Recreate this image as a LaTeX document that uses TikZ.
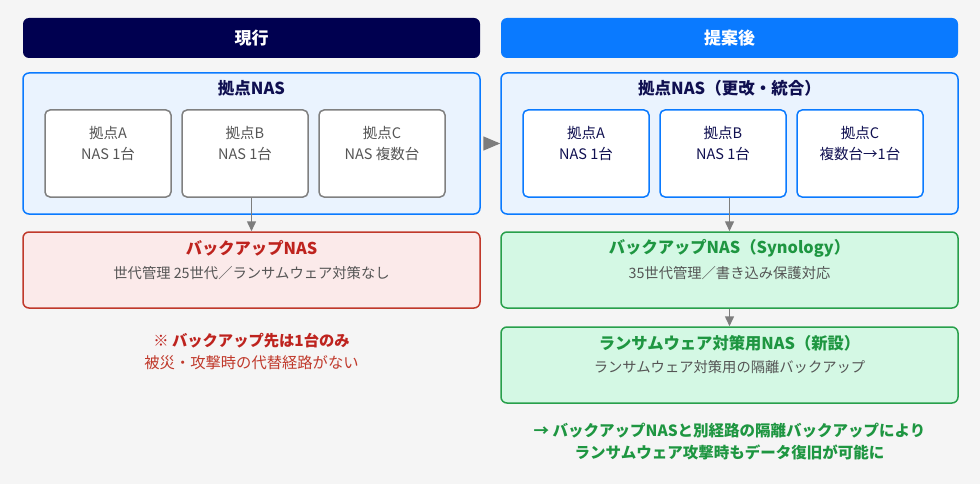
\documentclass[tikz,border=0pt]{standalone}
\usepackage{fontspec}
\setmainfont{Noto Sans CJK JP}
\usetikzlibrary{arrows.meta, positioning, calc}
\definecolor{pagebg}{RGB}{245,245,245}
\definecolor{curnavy}{RGB}{0,0,80}
\definecolor{propblue}{RGB}{10,122,255}
\definecolor{groupfill}{RGB}{234,243,254}
\definecolor{siteborder}{RGB}{128,128,128}
\definecolor{sitetext}{RGB}{85,85,85}
\definecolor{titlenavy}{RGB}{15,15,80}
\definecolor{backupred}{RGB}{192,57,43}
\definecolor{backupredtext}{RGB}{190,35,30}
\definecolor{backupredfill}{RGB}{251,234,234}
\definecolor{safegreen}{RGB}{40,160,75}
\definecolor{safegreentext}{RGB}{30,150,65}
\definecolor{safegreenfill}{RGB}{212,248,228}
\definecolor{arrowgray}{RGB}{125,125,125}
\tikzset{
    headbox/.style={rectangle, rounded corners=6pt, minimum width=457pt, minimum height=40pt, text=white, font=\fontsize{17}{20}\selectfont\bfseries},
    groupbox/.style={rectangle, rounded corners=6pt, minimum width=457pt, minimum height=141pt, fill=groupfill, draw=propblue, line width=1.5pt},
    sitebox/.style={rectangle, rounded corners=5pt, minimum width=126pt, minimum height=87pt, fill=white, line width=1.5pt},
    wideblock/.style={rectangle, rounded corners=6pt, minimum width=457pt, minimum height=76pt, line width=1.5pt},
    arrow/.style={-{Triangle[length=10pt, width=9pt]}, arrowgray, line width=1.5pt},
}

\begin{document}
\begin{tikzpicture}[
    x=1pt, y=-1pt,
    grouptitle/.style={font=\fontsize{16.5}{19}\selectfont\bfseries, text=titlenavy, inner sep=0pt},
    sitelabel/.style={align=center, inner sep=0pt, font=\fontsize{14.5}{21}\selectfont},
    blocktitle/.style={font=\fontsize{16.3}{19}\selectfont\bfseries, inner sep=0pt},
    blocksub/.style={font=\fontsize{14.3}{17}\selectfont, text=sitetext, inner sep=0pt},
    notetext/.style={align=center, inner sep=0pt}
]

\fill[pagebg] (0,0) rectangle (980,484);
\useasboundingbox (0,0) rectangle (980,484);

% Headers
\node[headbox, fill=curnavy] (cur-head) at (251.5,38) {現行};
\node[headbox, fill=propblue] (prop-head) at (729.5,38) {提案後};

% Current: site NAS group
\node[groupbox] (cur-group) at (251.5,143.5) {};
\node[grouptitle] (cur-group-title) at ($(cur-group.north)+(0,15.5)$) {拠点NAS};
\node[sitebox, draw=siteborder] (cur-a) at (108,153.5) {};
\node[sitebox, draw=siteborder] (cur-b) at (245,153.5) {};
\node[sitebox, draw=siteborder] (cur-c) at (382,153.5) {};
\node[sitelabel, text=sitetext] (cur-a-text) at ($(cur-a.north)+(0,34.5)$) {拠点A\\NAS 1台};
\node[sitelabel, text=sitetext] (cur-b-text) at ($(cur-b.north)+(0,34.5)$) {拠点B\\NAS 1台};
\node[sitelabel, text=sitetext] (cur-c-text) at ($(cur-c.north)+(0,34.5)$) {拠点C\\NAS 複数台};

% Current: backup NAS
\node[wideblock, fill=backupredfill, draw=backupred] (cur-backup) at (251.5,270) {};
\node[blocktitle, text=backupredtext] (cur-backup-title) at ($(cur-backup.north)+(0,17.5)$) {バックアップNAS};
\node[blocksub] (cur-backup-sub) at ($(cur-backup.north)+(0,42)$) {世代管理 25世代／ランサムウェア対策なし};

% Current: note
\node[notetext, text=backupredtext, font=\fontsize{15.3}{18}\selectfont\bfseries] (cur-note1) at (251.5,341) {※ バックアップ先は1台のみ};
\node[notetext, text=backupred, font=\fontsize{15.3}{18}\selectfont] (cur-note2) at (251.5,363) {被災・攻撃時の代替経路がない};

% Proposal: site NAS group
\node[groupbox] (prop-group) at (729.5,143.5) {};
\node[grouptitle] (prop-group-title) at ($(prop-group.north)+(0,15.5)$) {拠点NAS（更改・統合）};
\node[sitebox, draw=propblue] (prop-a) at (586,153.5) {};
\node[sitebox, draw=propblue] (prop-b) at (723,153.5) {};
\node[sitebox, draw=propblue] (prop-c) at (860,153.5) {};
\node[sitelabel, text=titlenavy] (prop-a-text) at ($(prop-a.north)+(0,34.5)$) {拠点A\\NAS 1台};
\node[sitelabel, text=titlenavy] (prop-b-text) at ($(prop-b.north)+(0,34.5)$) {拠点B\\NAS 1台};
\node[sitelabel, text=titlenavy] (prop-c-text) at ($(prop-c.north)+(0,34.5)$) {拠点C\\複数台→1台};

% Proposal: backup NAS and isolated NAS
\node[wideblock, fill=safegreenfill, draw=safegreen] (prop-backup) at (729.5,270) {};
\node[blocktitle, text=safegreentext] (prop-backup-title) at ($(prop-backup.north)+(0,17.5)$) {バックアップNAS（Synology）};
\node[blocksub] (prop-backup-sub) at ($(prop-backup.north)+(0,42)$) {35世代管理／書き込み保護対応};

\node[wideblock, fill=safegreenfill, draw=safegreen] (prop-isolated) at (729.5,365) {};
\node[blocktitle, text=safegreentext] (prop-isolated-title) at ($(prop-isolated.north)+(0,17.5)$) {ランサムウェア対策用NAS（新設）};
\node[blocksub] (prop-isolated-sub) at ($(prop-isolated.north)+(0,41)$) {ランサムウェア対策用の隔離バックアップ};

% Proposal: note
\node[notetext, text=safegreentext, font=\fontsize{15.5}{18}\selectfont\bfseries] (prop-note1) at (729.5,431) {→ バックアップNASと別経路の隔離バックアップにより};
\node[notetext, text=safegreentext, font=\fontsize{15.5}{18}\selectfont\bfseries] (prop-note2) at (729.5,452) {ランサムウェア攻撃時もデータ復旧が可能に};

% Arrows
\draw[arrow] (cur-b.south -| cur-group.south) -- (cur-backup.north);
\draw[arrow] (prop-b.south -| prop-group.south) -- (prop-backup.north);
\draw[arrow] (prop-backup.south) -- (prop-isolated.north);
\draw[-{Triangle[length=17pt, width=14pt]}, arrowgray, line width=1.5pt, shorten <=3pt] (cur-group.east) -- (prop-group.west);

\end{tikzpicture}
\end{document}
